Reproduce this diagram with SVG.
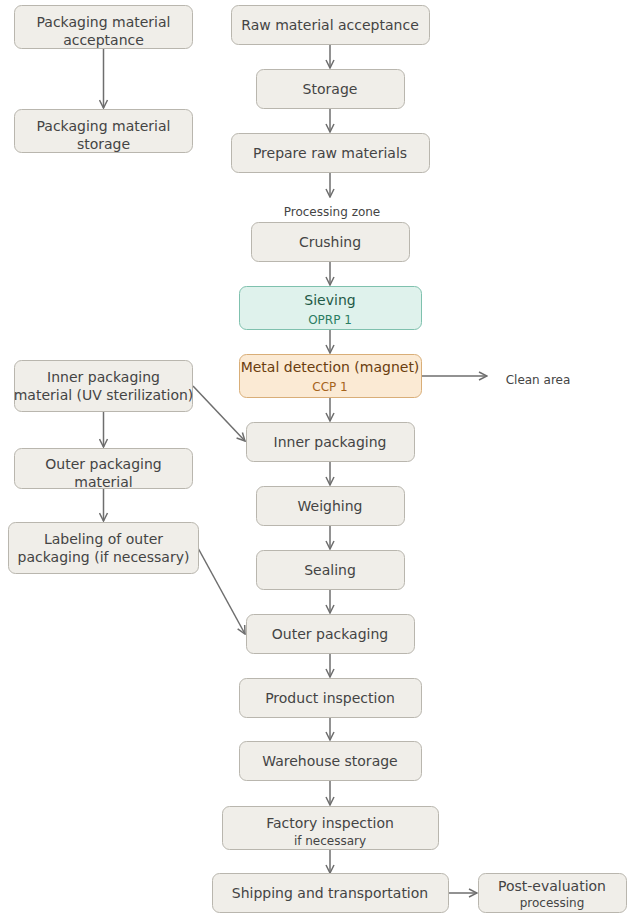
<svg xmlns="http://www.w3.org/2000/svg" width="627" height="913" viewBox="0 0 627 913">
<defs>
<marker id="ah" viewBox="0 0 10 10" refX="9" refY="5" markerWidth="10" markerHeight="10" markerUnits="userSpaceOnUse" orient="auto">
<path d="M1,1 L9,5 L1,9" fill="none" stroke="#6e6e6e" stroke-width="1.5"/>
</marker>
<style>
.n{fill:#f0eee9;stroke:#b9b6ae;stroke-width:1}
.g{fill:#dff2ec;stroke:#7fc1ae;stroke-width:1}
.o{fill:#fbead4;stroke:#d9ae78;stroke-width:1}
text{font-family:"DejaVu Sans","Verdana",sans-serif;text-anchor:middle;fill:#444}
.t{font-size:14px}
.s{font-size:12px}
.xs{font-size:12px}
.c line,.c path{stroke:#6e6e6e;stroke-width:1.5;fill:none;marker-end:url(#ah)}
</style>
</defs>
<g class="c" id="connectors">
<line x1="103.5" y1="48" x2="103.5" y2="108"/>
<line x1="330" y1="44" x2="330" y2="68"/>
<line x1="330" y1="108" x2="330" y2="132"/>
<line x1="330" y1="172" x2="330" y2="197"/>
<line x1="330" y1="261" x2="330" y2="285"/>
<line x1="330" y1="329" x2="330" y2="353"/>
<line x1="421" y1="376" x2="487" y2="376"/>
<line x1="330" y1="397" x2="330" y2="421"/>
<line x1="330" y1="461" x2="330" y2="485"/>
<line x1="330" y1="525" x2="330" y2="549"/>
<line x1="330" y1="589" x2="330" y2="613"/>
<line x1="330" y1="653" x2="330" y2="677"/>
<line x1="330" y1="717" x2="330" y2="740"/>
<line x1="330" y1="780" x2="330" y2="805"/>
<line x1="330" y1="849" x2="330" y2="873"/>
<line x1="448" y1="893" x2="477" y2="893"/>
<line x1="103.5" y1="411" x2="103.5" y2="447"/>
<line x1="103.5" y1="488" x2="103.5" y2="521"/>
<line x1="193" y1="386" x2="245" y2="441"/>
<line x1="198" y1="548" x2="245" y2="634"/>
</g>
<g id="pkg-accept"><rect class="n" x="14.5" y="5.5" width="178" height="43" rx="7"/><text class="t" x="103.5" y="27">Packaging material</text><text class="t" x="103.5" y="45">acceptance</text></g>
<g id="pkg-storage"><rect class="n" x="14.5" y="109.5" width="178" height="43" rx="7"/><text class="t" x="103.5" y="131">Packaging material</text><text class="t" x="103.5" y="149">storage</text></g>
<g id="raw-accept"><rect class="n" x="231.5" y="5.5" width="198" height="39" rx="7"/><text class="t" x="330" y="30">Raw material acceptance</text></g>
<g id="storage"><rect class="n" x="256.5" y="69.5" width="148" height="39" rx="7"/><text class="t" x="330" y="94">Storage</text></g>
<g id="prepare"><rect class="n" x="231.5" y="133.5" width="198" height="39" rx="7"/><text class="t" x="330" y="158">Prepare raw materials</text></g>
<text class="s" x="332" y="216">Processing zone</text>
<g id="crushing"><rect class="n" x="251.5" y="222.5" width="158" height="39" rx="7"/><text class="t" x="330" y="247">Crushing</text></g>
<g id="sieving"><rect class="g" x="239.5" y="286.5" width="182" height="43" rx="7"/><text class="t" x="330" y="305" style="fill:#1f5a46">Sieving</text><text class="s" x="330" y="324" style="fill:#2a7d62">OPRP 1</text></g>
<g id="metal"><rect class="o" x="239.5" y="354.5" width="182" height="43" rx="7"/><text class="t" x="330" y="372" style="fill:#6a3d0f">Metal detection (magnet)</text><text class="s" x="330" y="391" style="fill:#a5631b">CCP 1</text></g>
<text class="s" x="538" y="384">Clean area</text>
<g id="inner-mat"><rect class="n" x="14.5" y="360.5" width="178" height="51" rx="7"/><text class="t" x="103.5" y="382">Inner packaging</text><text class="t" x="103.5" y="400">material (UV sterilization)</text></g>
<g id="outer-mat"><rect class="n" x="14.5" y="448.5" width="178" height="40" rx="7"/><text class="t" x="103.5" y="469">Outer packaging</text><text class="t" x="103.5" y="487">material</text></g>
<g id="labeling"><rect class="n" x="8.5" y="522.5" width="190" height="51" rx="7"/><text class="t" x="103.5" y="544">Labeling of outer</text><text class="t" x="103.5" y="562">packaging (if necessary)</text></g>
<g id="inner"><rect class="n" x="246.5" y="422.5" width="168" height="39" rx="7"/><text class="t" x="330" y="447">Inner packaging</text></g>
<g id="weighing"><rect class="n" x="256.5" y="486.5" width="148" height="39" rx="7"/><text class="t" x="330" y="511">Weighing</text></g>
<g id="sealing"><rect class="n" x="256.5" y="550.5" width="148" height="39" rx="7"/><text class="t" x="330" y="575">Sealing</text></g>
<g id="outer"><rect class="n" x="246.5" y="614.5" width="168" height="39" rx="7"/><text class="t" x="330" y="639">Outer packaging</text></g>
<g id="product-insp"><rect class="n" x="239.5" y="678.5" width="182" height="39" rx="7"/><text class="t" x="330" y="703">Product inspection</text></g>
<g id="warehouse"><rect class="n" x="239.5" y="741.5" width="182" height="39" rx="7"/><text class="t" x="330" y="766">Warehouse storage</text></g>
<g id="factory-insp"><rect class="n" x="222.5" y="806.5" width="216" height="43" rx="7"/><text class="t" x="330" y="828">Factory inspection</text><text class="xs" x="330" y="845">if necessary</text></g>
<g id="shipping"><rect class="n" x="212.5" y="873.5" width="236" height="39" rx="7"/><text class="t" x="330" y="898">Shipping and transportation</text></g>
<g id="post-eval"><rect class="n" x="478.5" y="873.5" width="148" height="39" rx="7"/><text class="t" x="552" y="891">Post-evaluation</text><text class="xs" x="552" y="907">processing</text></g>
</svg>
